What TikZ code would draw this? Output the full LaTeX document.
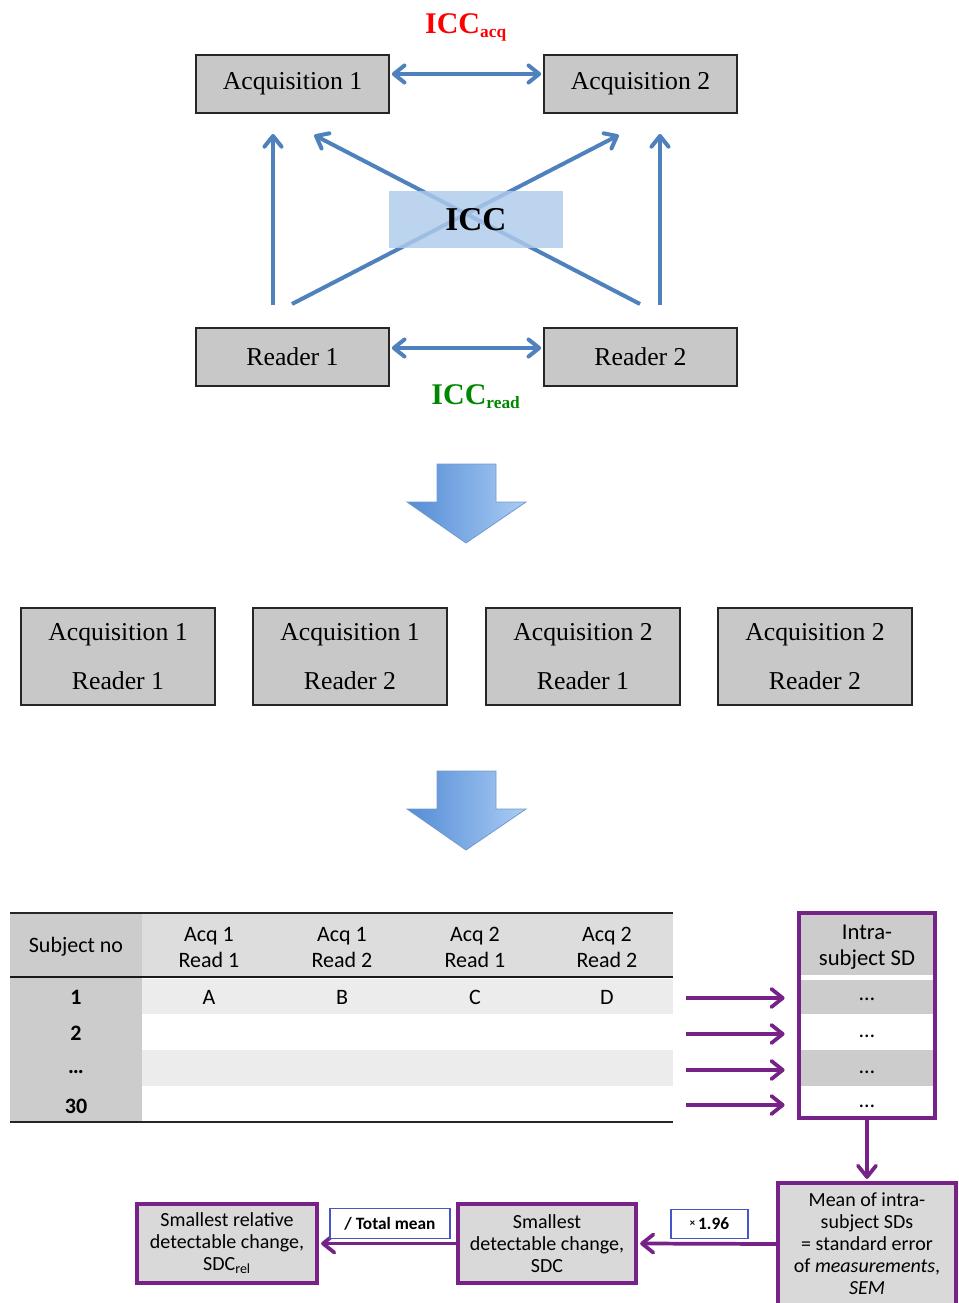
\documentclass[tikz,border=0pt]{standalone}
\usepackage{fontspec}
\setmainfont{Liberation Serif}
\newfontfamily\calib{Carlito}
\usetikzlibrary{calc,decorations.markings}
\definecolor{boxgray}{RGB}{200,200,200}
\definecolor{arrblue}{RGB}{79,129,189}
\definecolor{iccblue}{RGB}{175,203,236}
\definecolor{iccred}{RGB}{255,0,0}
\definecolor{iccgreen}{RGB}{0,135,0}
\definecolor{colgray}{RGB}{204,204,204}
\definecolor{hdrgray}{RGB}{221,221,221}
\definecolor{rowgray}{RGB}{236,236,236}
\definecolor{purp}{RGB}{118,34,134}
\definecolor{lblblue}{RGB}{70,85,200}
\definecolor{pboxgray}{RGB}{217,217,217}
\definecolor{shadeL}{RGB}{84,140,212}
\definecolor{shadeR}{RGB}{170,204,245}
\newcommand\px[1]{#1*0.75pt}
\tikzset{
  topbox/.style={draw=black!85, line width=1.2pt, fill=boxgray, minimum width=\px{193}, minimum height=\px{58}, inner sep=0pt, font=\fontsize{19.3}{23}\selectfont},
  fourbox/.style={draw=black!85, line width=1.2pt, fill=boxgray, minimum width=\px{194}, minimum height=\px{97}, inner sep=0pt, align=center, font=\fontsize{19.3}{36.75}\selectfont},
  endchev/.style={postaction={decorate, decoration={markings, mark=at position 1 with {\draw[solid, line cap=round, line join=round] (-#1,0.8*#1) -- (0,0) -- (-#1,-0.8*#1);}}}},
  startchev/.style={postaction={decorate, decoration={markings, mark=at position 0 with {\draw[solid, line cap=round, line join=round] (#1,0.8*#1) -- (0,0) -- (#1,-0.8*#1);}}}},
  barrow/.style={draw=arrblue, line width=3pt, endchev=8pt},
  barrow2/.style={draw=arrblue, line width=3pt, endchev=8pt, startchev=8pt},
  parrow/.style={draw=purp, line width=2.8pt, endchev=8.5pt},
  tcell/.style={font=\calib\fontsize{16.5}{19.5}\selectfont, align=center, inner sep=0pt},
  pbox/.style={draw=purp, line width=3pt, fill=pboxgray, inner sep=0pt, align=center, font=\calib\fontsize{15}{16.5}\selectfont},
  lbl/.style={draw=lblblue, line width=1.2pt, fill=white, inner sep=0pt, font=\calib\bfseries\fontsize{13}{15}\selectfont},
  blockarrow/.style={left color=shadeL, right color=shadeR, draw=arrblue!80, line width=0.6pt, line join=miter}
}
\begin{document}
\begin{tikzpicture}[x=0.75pt,y=-0.75pt]
\useasboundingbox (0,0) rectangle (958,1303);

% ---------- top part ----------
\node[text=iccred, font=\bfseries\fontsize{22.5}{25}\selectfont] (iccacq) at (466,27) {ICC\textsubscript{\fontsize{13}{14}\selectfont acq}};
\node[topbox] (a1) at (292.5,84) {Acquisition 1};
\node[topbox] (a2) at (640.5,84) {Acquisition 2};
\node[topbox] (r1) at (292.5,357) {Reader 1};
\node[topbox] (r2) at (640.5,357) {Reader 2};
\node[text=iccgreen, font=\bfseries\fontsize{22.5}{25}\selectfont] (iccread) at (476,397) {ICC\textsubscript{\fontsize{13}{14}\selectfont read}};

\draw[barrow2] ($(a1.east)+(4,-10)$) -- ($(a2.west)+(-4,-10)$);
\draw[barrow2] ($(r1.east)+(4,-9)$) -- ($(r2.west)+(-4,-9)$);

\coordinate (v1s) at (273,305); \coordinate (v1e) at (273,136);
\coordinate (v2s) at (660,305); \coordinate (v2e) at (660,136);
\coordinate (d1s) at (292,304); \coordinate (d1e) at (617,136);
\coordinate (d2s) at (640,304); \coordinate (d2e) at (316,136);
\draw[barrow] (v1s) -- (v1e);
\draw[barrow] (v2s) -- (v2e);
\draw[barrow] (d1s) -- (d1e);
\draw[barrow] (d2s) -- (d2e);

\node[fill=iccblue, fill opacity=0.82, minimum width=\px{174}, minimum height=\px{57}, inner sep=0pt] (iccbox) at (476,219.5) {};
\node[font=\bfseries\fontsize{25}{28}\selectfont] (icc) at (476,220) {ICC};

% ---------- block arrows ----------
\shade[blockarrow] (407,502) -- (437,502) -- (437,464) -- (496,464) -- (496,502) -- (526,502) -- (466,543) -- cycle;
\shade[blockarrow] (407,809) -- (437,809) -- (437,771) -- (496,771) -- (496,809) -- (526,809) -- (466,850) -- cycle;

% ---------- four boxes ----------
\node[fourbox] (b1) at (118,656.5) {Acquisition 1\\Reader 1};
\node[fourbox] (b2) at (350,656.5) {Acquisition 1\\Reader 2};
\node[fourbox] (b3) at (583,656.5) {Acquisition 2\\Reader 1};
\node[fourbox] (b4) at (815,656.5) {Acquisition 2\\Reader 2};

% ---------- table ----------
\fill[colgray] (10,913) rectangle (142,1122);
\fill[hdrgray] (142,913) rectangle (673,977);
\fill[rowgray] (142,979) rectangle (673,1014);
\fill[rowgray] (142,1050) rectangle (673,1086);
\draw[black!85, line width=1.5pt] (10,913) -- (673,913);
\draw[black!90, line width=2.2pt] (10,977) -- (673,977);
\draw[black!85, line width=1.5pt] (10,1122) -- (673,1122);

\node[tcell] (h0) at (76,947) {Subject no};
\node[tcell] (h1) at (209,947) {Acq 1\\Read 1};
\node[tcell] (h2) at (342,947) {Acq 1\\Read 2};
\node[tcell] (h3) at (475,947) {Acq 2\\Read 1};
\node[tcell] (h4) at (607,947) {Acq 2\\Read 2};
\node[tcell, font=\calib\bfseries\fontsize{16.5}{19.5}\selectfont] (n1) at (76,997) {1};
\node[tcell, font=\calib\bfseries\fontsize{16.5}{19.5}\selectfont] (n2) at (76,1033) {2};
\node[tcell, font=\calib\bfseries\fontsize{16.5}{19.5}\selectfont] (n3) at (76,1072) {…};
\node[tcell, font=\calib\bfseries\fontsize{16.5}{19.5}\selectfont] (n4) at (76,1106) {30};
\node[tcell] (cA) at (209,997) {A};
\node[tcell] (cB) at (342,997) {B};
\node[tcell] (cC) at (475,997) {C};
\node[tcell] (cD) at (607,997) {D};

% ---------- intra-subject SD column ----------
\fill[colgray] (799,913) rectangle (935,975);
\fill[colgray] (799,980) rectangle (935,1014);
\fill[colgray] (799,1050) rectangle (935,1086);
\node[tcell, font=\calib\fontsize{17}{19.5}\selectfont] (ih) at (867,947) {Intra-\\subject SD};
\node[tcell, minimum width=\px{136}, minimum height=\px{34}] (s1) at (867,999) {…};
\node[tcell, minimum width=\px{136}, minimum height=\px{36}] (s2) at (867,1036) {…};
\node[tcell, minimum width=\px{136}, minimum height=\px{36}] (s3) at (867,1072) {…};
\node[tcell, minimum width=\px{136}, minimum height=\px{34}] (s4) at (867,1106) {…};
\node[draw=purp, line width=3pt, minimum width=\px{136}, minimum height=\px{205}, inner sep=0pt] (intra) at (867,1015.5) {};

\coordinate (t1) at (686,998);
\coordinate (t2) at (686,1034);
\coordinate (t3) at (686,1070);
\coordinate (t4) at (686,1105);
\draw[parrow] (t1) -- ($(s1.west)+(-16,-1)$);
\draw[parrow] (t2) -- ($(s2.west)+(-16,-2)$);
\draw[parrow] (t3) -- ($(s3.west)+(-16,-2)$);
\draw[parrow] (t4) -- ($(s4.west)+(-16,-1)$);

% ---------- bottom chain ----------
\node[pbox, minimum width=\px{178}, minimum height=\px{122}] (mean) at (867,1244) {Mean of intra-\\subject SDs\\= standard error\\of \emph{measurements},\\\emph{SEM}};
\node[pbox, minimum width=\px{178}, minimum height=\px{79}] (sdc) at (547,1243.5) {Smallest\\detectable change,\\SDC};
\node[pbox, minimum width=\px{180}, minimum height=\px{79}] (rel) at (227,1243.5) {Smallest relative\\detectable change,\\SDC\textsubscript{rel}};

\draw[parrow] (intra.south) -- ($(mean.north)+(0,-4)$);
\draw[parrow] (mean.west) -- ($(sdc.east)+(4,0)$);
\draw[parrow] (sdc.west) -- ($(rel.east)+(4,0)$);

\node[lbl, minimum width=\px{77}, minimum height=\px{29}] (x196) at (709.5,1224) {\raisebox{0.35ex}{\fontsize{8}{9}\selectfont ×}\,1.96};
\node[lbl, minimum width=\px{120}, minimum height=\px{30}] (tmean) at (390,1223.5) {/ Total mean};
\end{tikzpicture}
\end{document}
